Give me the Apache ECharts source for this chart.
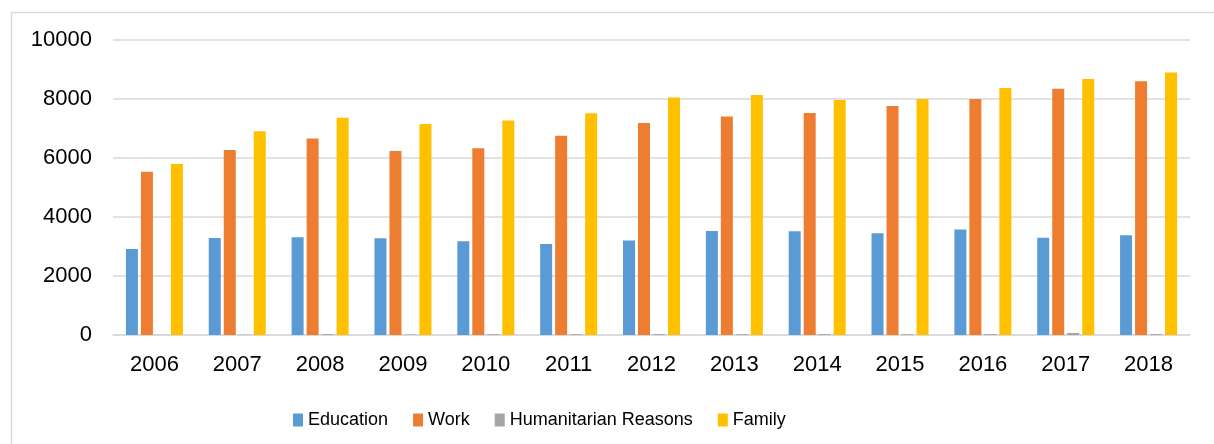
<!DOCTYPE html>
<html>
<head>
<meta charset="utf-8">
<script src="https://cdn.jsdelivr.net/npm/echarts@6/dist/echarts.min.js"></script>
<style>
html,body{margin:0;padding:0;background:#fff;}
#c{width:1214px;height:444px;}
</style>
</head>
<body>
<div id="c"></div>
<script>
const years = ['2006','2007','2008','2009','2010','2011','2012','2013','2014','2015','2016','2017','2018'];
const education = [2915,3290,3310,3280,3175,3085,3200,3525,3515,3445,3580,3300,3380];
const work = [5530,6270,6665,6235,6330,6755,7185,7410,7525,7765,8000,8350,8600];
const humanitarian = [5,10,30,15,25,25,30,25,30,25,30,70,30];
const family = [5800,6905,7365,7155,7275,7515,8055,8135,7965,8000,8375,8680,8895];
const yTicks = [0,2000,4000,6000,8000,10000];

const chart = echarts.init(document.getElementById('c'), null, {renderer:'canvas'});
const font = 'Liberation Sans, Arial, sans-serif';
const barBase = {type:'bar', barWidth:12, barGap:'25%'};
chart.setOption({
  animation:false,
  textStyle:{fontFamily:font},
  graphic:[{type:'rect', left:9, top:10, shape:{width:1230, height:460}, style:{fill:'none', stroke:'#d9d9d9', lineWidth:1.5}, silent:true, z:-1}],
  grid:{left:113, right:24, top:40, bottom:109, containLabel:false},
  legend:{
    left:288, top:406, itemWidth:10, itemHeight:13, itemGap:25, icon:'rect',
    textStyle:{fontSize:18, color:'#000', fontFamily:font},
    data:['Education','Work','Humanitarian Reasons','Family']
  },
  xAxis:{
    type:'category', data:years,
    axisLine:{lineStyle:{color:'#d9d9d9', width:1.5}},
    axisTick:{show:false},
    axisLabel:{fontSize:22, color:'#000', margin:19, fontFamily:font}
  },
  yAxis:{
    type:'value', min:yTicks[0], max:yTicks[yTicks.length-1], interval:2000,
    axisLine:{show:false}, axisTick:{show:false},
    splitLine:{lineStyle:{color:'#d9d9d9', width:1.5}},
    axisLabel:{fontSize:22, color:'#000', margin:21, fontFamily:font, formatter:function(v){return String(v);}}
  },
  series:[
    Object.assign({name:'Education', data:education, itemStyle:{color:'#5B9BD5'}}, barBase),
    Object.assign({name:'Work', data:work, itemStyle:{color:'#ED7D31'}}, barBase),
    Object.assign({name:'Humanitarian Reasons', data:humanitarian, itemStyle:{color:'#A5A5A5'}}, barBase),
    Object.assign({name:'Family', data:family, itemStyle:{color:'#FFC000'}}, barBase)
  ]
});
</script>
</body>
</html>
